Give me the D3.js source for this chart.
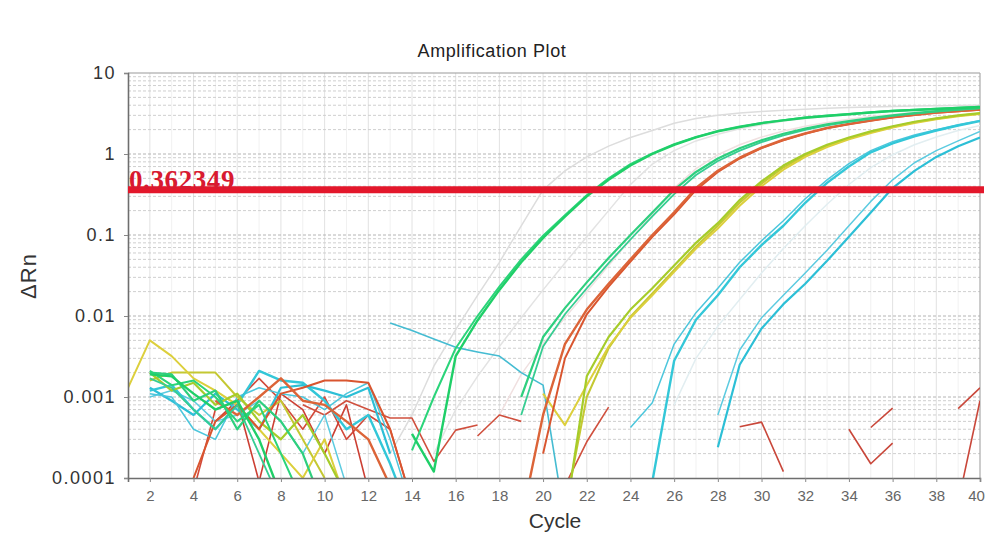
<!DOCTYPE html>
<html>
<head>
<meta charset="utf-8">
<script src="https://cdn.jsdelivr.net/npm/d3@7"></script>
<style>
  body { margin: 0; background: #fff; }
  svg { display: block; font-family: "Liberation Sans", Arial, sans-serif; }
</style>
</head>
<body>
<div id="chart"></div>
<script>
var svgWidth = 986;
var svgHeight = 534;

var margin = { top: 73, right: 6, bottom: 56, left: 128 };
var width = svgWidth - margin.left - margin.right;
var height = svgHeight - margin.top - margin.bottom;

var _ = null;

// cycles and axis labels
var cycles = d3.range(1, 41);
var xTicks = d3.range(2, 41, 2);
var yTicks = [0.0001, 0.001, 0.01, 0.1, 1, 10];
var yTickLabels = ["0.0001", "0.001", "0.01", "0.1", "1", "10"];
var threshold = 0.362349;

// ΔRn per cycle (1..40), null = not drawn
var grayA = [_,_,_,_,_,_,_,_,_,_,_,_,0.0002,0.0006,0.0024,0.0068,0.018,0.046,0.13,0.36,0.62,0.92,1.25,1.60,1.95,2.40,2.75,3.00,3.20,3.35,3.48,3.58,3.66,3.74,3.80,3.86,3.90,3.94,3.97,4.00];
var grayB = [_,_,_,_,_,_,_,_,_,_,_,_,_,_,0.0002,0.0007,0.0018,0.0042,0.0095,0.021,0.045,0.095,0.20,0.42,0.75,1.10,1.45,1.75,2.05,2.30,2.55,2.75,2.95,3.10,3.25,3.40,3.50,3.60,3.70,3.80];
var grayC = [_,_,_,_,_,_,_,_,_,_,_,_,_,_,_,_,_,0.0006,0.0019,0.0045,0.0095,0.020,0.042,0.088,0.18,0.38,0.66,0.98,1.30,1.62,1.92,2.20,2.45,2.68,2.90,3.08,3.25,3.40,3.55,3.68];
var grayD = [_,_,_,_,_,_,_,_,_,_,_,_,_,_,_,_,_,_,_,_,_,_,_,_,_,0.0008,0.0030,0.0075,0.016,0.034,0.068,0.13,0.24,0.42,0.68,0.98,1.30,1.62,1.95,2.25];

var greenA1 = [_,0.0019,0.0018,0.0011,0.0007,0.0009,0.0003,0.00006,_,_,_,_,_,0.00035,0.00012,0.0032,0.0088,0.021,0.046,0.092,0.168,0.30,0.48,0.72,1.00,1.30,1.60,1.90,2.15,2.40,2.60,2.80,2.95,3.10,3.25,3.40,3.50,3.60,3.70,3.80];
var greenA2 = [_,0.0021,0.0014,0.0016,0.0010,0.0005,0.0008,0.0002,0.00005,_,_,_,_,0.00022,0.0010,0.0040,0.0100,0.023,0.050,0.098,0.175,0.31,0.50,0.75,1.02,1.32,1.62,1.92,2.18,2.42,2.62,2.82,2.98,3.12,3.28,3.42,3.52,3.62,3.72,3.82];
var greenB1 = [_,0.0020,0.0019,0.0009,0.0012,0.0004,0.0009,0.0005,0.0002,0.00004,_,_,_,_,_,_,_,_,0.0010,0.0055,0.0125,0.026,0.052,0.10,0.19,0.36,0.60,0.88,1.18,1.48,1.78,2.06,2.32,2.55,2.78,3.00,3.20,3.38,3.55,3.70];
var greenB2 = [_,0.0017,0.0013,0.0007,0.0004,0.0008,0.0002,0.00005,_,_,_,_,_,_,_,_,_,_,0.0006,0.0042,0.0105,0.022,0.045,0.088,0.17,0.32,0.55,0.82,1.10,1.40,1.70,1.98,2.25,2.50,2.72,2.95,3.15,3.33,3.50,3.66];
var orangeC1 = [_,_,_,_,0.0009,0.0006,0.0010,0.0017,0.0009,0.0008,0.0005,0.0003,0.00008,_,_,_,_,_,0.00003,0.0006,0.0045,0.012,0.025,0.050,0.10,0.19,0.38,0.62,0.90,1.20,1.50,1.80,2.10,2.35,2.60,2.85,3.05,3.25,3.40,3.55];
var orangeC2 = [_,_,_,0.0001,0.0005,0.0008,0.0004,0.0011,0.0013,0.0016,0.0016,0.0015,0.0004,0.00005,_,_,_,_,_,0.0002,0.0030,0.0105,0.023,0.047,0.095,0.18,0.36,0.60,0.88,1.18,1.48,1.78,2.08,2.33,2.58,2.83,3.03,3.22,3.38,3.52];
var limeD1 = [_,0.0020,0.0012,0.0015,0.0008,0.0011,0.0005,0.0003,0.0006,0.0002,0.00006,_,_,_,_,_,_,_,_,_,0.00003,0.0018,0.0055,0.012,0.022,0.042,0.080,0.14,0.27,0.46,0.72,1.00,1.30,1.60,1.90,2.20,2.50,2.75,3.00,3.20];
var yellowD2 = [0.0013,0.0050,0.0032,0.0017,0.0012,0.0008,0.0004,0.0002,0.0001,0.0003,0.00005,_,_,_,_,_,_,_,_,0.0011,0.00045,0.0014,0.0042,0.0095,0.018,0.035,0.068,0.12,0.23,0.40,0.64,0.92,1.22,1.52,1.82,2.12,2.42,2.68,2.92,3.12];
var oliveD3 = [_,0.0016,0.0020,0.0020,0.0020,0.0010,0.0006,0.0009,0.0003,0.0001,_,_,_,_,_,_,_,_,_,_,0.00004,0.0010,0.0040,0.0098,0.019,0.037,0.072,0.13,0.25,0.43,0.68,0.96,1.26,1.56,1.86,2.16,2.46,2.72,2.96,3.16];
var cyanE1 = [_,0.0012,0.0014,0.0007,0.0004,0.0008,0.0021,0.0016,0.0015,0.0009,0.0004,0.0006,0.00015,0.00003,_,_,_,_,_,_,_,_,_,0.00001,0.00009,0.0028,0.0090,0.018,0.040,0.075,0.13,0.25,0.44,0.70,1.05,1.35,1.65,1.95,2.25,2.55];
var cyanE2 = [_,0.0011,0.0010,0.0004,0.0003,0.0010,0.0013,0.0011,0.0010,0.0007,0.0011,0.0015,0.0003,0.00004,_,_,_,_,_,_,_,_,_,0.00042,0.00085,0.0045,0.011,0.022,0.046,0.085,0.15,0.28,0.48,0.76,1.10,1.42,1.72,2.00,2.30,2.60];
var cyanF1 = [_,0.0013,0.0009,0.0006,0.0011,0.0007,0.0004,0.0013,0.0014,0.0012,0.0010,0.0013,0.0002,_,_,_,_,_,_,_,_,_,_,_,_,_,_,0.00024,0.0025,0.0070,0.014,0.025,0.048,0.095,0.19,0.38,0.62,0.92,1.25,1.60];
var cyanF2 = [_,0.0010,0.0012,0.0009,0.0005,0.0006,0.0009,0.0005,0.0002,0.0006,0.00008,_,_,_,_,_,_,_,_,_,_,_,_,_,_,_,_,0.0006,0.0038,0.0095,0.018,0.034,0.065,0.13,0.26,0.48,0.78,1.10,1.45,1.90];
var cyanS = [_,_,_,_,_,_,_,_,_,_,_,_,0.0082,0.0066,0.0052,0.0041,0.0036,0.0032,0.0020,0.0014,0.00003,_,_,_,_,_,_,_,_,_,_,_,_,_,_,_,_,_,_,_];

// baseline noise segments (red)
var redN1 = [_,_,_,0.00007,0.0007,0.0009,0.0017,0.0009,0.0004,0.0010,0.0003,0.0006,0.0004,0.00005,_,_,_,_,_,_,_,_,_,_,_,_,_,_,_,_,_,_,_,_,_,_,_,_,_,_];
var redN2 = [_,_,_,_,_,_,_,_,0.0008,0.0006,0.0009,0.0007,0.00055,0.00055,0.00016,0.00039,0.00045,_,_,_,_,_,_,_,_,_,_,_,_,_,_,_,_,_,_,_,_,_,_,_];
var redN3 = [_,_,_,_,_,_,_,_,_,_,_,_,_,_,_,_,0.00033,0.0006,0.0005,_,_,_,_,_,_,_,_,_,_,_,_,_,_,_,_,_,_,_,_,_];
var redN4 = [_,_,_,_,_,_,_,_,_,_,_,_,_,_,_,_,_,_,_,_,0.00008,0.00028,0.00075,_,_,_,_,_,_,_,_,_,_,_,_,_,_,_,_,_];
var redN5 = [_,_,_,_,_,_,_,_,_,_,_,_,_,_,_,_,_,_,_,_,_,_,_,_,_,_,_,_,0.00043,0.00049,0.00012,_,_,_,_,_,_,_,_,_];
var redN6 = [_,_,_,_,_,_,_,_,_,_,_,_,_,_,_,_,_,_,_,_,_,_,_,_,_,_,_,_,_,_,_,_,_,0.00040,0.00015,0.00027,_,_,_,_];
var redN7 = [_,_,_,_,_,_,_,_,_,_,_,_,_,_,_,_,_,_,_,_,_,_,_,_,_,_,_,_,_,_,_,_,_,_,0.00042,0.00073,_,_,_,_];
var redN8 = [_,_,_,_,_,_,_,_,_,_,_,_,_,_,_,_,_,_,_,_,_,_,_,_,_,_,_,_,_,_,_,_,_,_,_,_,_,_,0.00072,0.0013];
var redN9 = [_,_,_,_,_,_,_,_,_,_,_,_,_,_,_,_,_,_,_,_,_,_,_,_,_,_,_,_,_,_,_,_,_,_,_,_,_,_,0.00005,0.0009];
var redN10 = [_,_,_,_,0.0005,0.0009,0.00009,0.0011,0.0007,0.0002,0.0008,0.00007,_,_,_,_,_,_,_,_,_,_,_,_,_,_,_,_,_,_,_,_,_,_,_,_,_,_,_,_];

var series = [
  { values: grayD, color: "#e2eef1", w: 1.5 },
  { values: grayC, color: "#f0e0e0", w: 1.5 },
  { values: grayB, color: "#e3e3e3", w: 1.5 },
  { values: grayA, color: "#dddddd", w: 1.5 },
  { values: redN1, color: "#d2493a", w: 1.6 },
  { values: redN10, color: "#cc3f33", w: 1.6 },
  { values: redN2, color: "#d0503e", w: 1.6 },
  { values: redN3, color: "#d0503e", w: 1.6 },
  { values: redN4, color: "#d0503e", w: 1.6 },
  { values: redN5, color: "#c9473a", w: 1.6 },
  { values: redN6, color: "#c9473a", w: 1.6 },
  { values: redN7, color: "#c9473a", w: 1.6 },
  { values: redN8, color: "#c9473a", w: 1.6 },
  { values: redN9, color: "#c9473a", w: 1.6 },
  { values: cyanS, color: "#45bcd2", w: 1.6 },
  { values: cyanF2, color: "#5ccbe0", w: 1.5 },
  { values: cyanF1, color: "#2cbfd6", w: 2.2 },
  { values: cyanE2, color: "#4cc6dc", w: 1.5 },
  { values: cyanE1, color: "#33c7d8", w: 2.4 },
  { values: oliveD3, color: "#c4c832", w: 2 },
  { values: yellowD2, color: "#dccf3c", w: 2 },
  { values: limeD1, color: "#a6cc2a", w: 2.2 },
  { values: orangeC2, color: "#d9552f", w: 2 },
  { values: orangeC1, color: "#dc6438", w: 2.4 },
  { values: greenB2, color: "#36cd92", w: 1.8 },
  { values: greenB1, color: "#2ecf7e", w: 2.2 },
  { values: greenA2, color: "#2bd47a", w: 2 },
  { values: greenA1, color: "#1fcf68", w: 2.4 }
];

var svg = d3.select("#chart")
  .append("svg")
  .attr("width", svgWidth)
  .attr("height", svgHeight);

svg.append("rect").attr("width", svgWidth).attr("height", svgHeight).attr("fill", "#fff");

// scales
var x = d3.scaleLinear().domain([1, 40]).range([margin.left, margin.left + width]);
var y = d3.scaleLog().domain([0.0001, 10]).range([margin.top + height, margin.top]);

// grid
var grid = svg.append("g");
grid.selectAll(".vgrid")
  .data(cycles.filter(c => c > 1 && c < 40))
  .enter().append("line")
  .attr("x1", d => x(d)).attr("x2", d => x(d))
  .attr("y1", margin.top).attr("y2", margin.top + height)
  .attr("stroke", d => d % 2 === 0 ? "#e2e2e2" : "#f1f1f1")
  .attr("stroke-width", 1);

grid.selectAll(".hgrid")
  .data(y.ticks().filter(t => t > 0.0001 && t < 10))
  .enter().append("line")
  .attr("x1", margin.left).attr("x2", margin.left + width)
  .attr("y1", d => y(d)).attr("y2", d => y(d))
  .attr("stroke", d => yTicks.indexOf(d) >= 0 ? "#b4b4b4" : "#cfcfcf")
  .attr("stroke-dasharray", "3,2")
  .attr("stroke-width", 1);

// frame top & right
svg.append("line")
  .attr("x1", margin.left).attr("x2", margin.left + width)
  .attr("y1", margin.top).attr("y2", margin.top)
  .attr("stroke", "#999").attr("stroke-width", 1.2);
svg.append("line")
  .attr("x1", margin.left + width).attr("x2", margin.left + width)
  .attr("y1", margin.top).attr("y2", margin.top + height)
  .attr("stroke", "#aaa").attr("stroke-width", 1.2);

// curves
svg.append("clipPath").attr("id", "plotClip")
  .append("rect")
  .attr("x", margin.left).attr("y", margin.top)
  .attr("width", width).attr("height", height);

var line = d3.line()
  .defined(d => d != null)
  .x((d, i) => x(cycles[i]))
  .y(d => y(d));

svg.append("g")
  .attr("clip-path", "url(#plotClip)")
  .selectAll("path")
  .data(series)
  .enter().append("path")
  .attr("d", d => line(d.values))
  .attr("fill", "none")
  .attr("stroke", d => d.color)
  .attr("stroke-width", d => d.w)
  .attr("stroke-linejoin", "round");

// axes
var xAxis = d3.axisBottom(x).tickValues(xTicks).tickSize(4).tickPadding(8);
var yAxis = d3.axisLeft(y).tickValues(yTicks).tickSize(4).tickPadding(8)
  .tickFormat((d, i) => yTickLabels[i]);

var gx = svg.append("g")
  .attr("transform", `translate(0, ${margin.top + height})`)
  .call(xAxis);
gx.select(".domain").attr("stroke", "#6e6e6e").attr("stroke-width", 1.6);
gx.selectAll(".tick line").attr("stroke", "#888");
gx.selectAll("text")
  .attr("font-size", "15px")
  .attr("font-family", "Liberation Sans, Arial, sans-serif")
  .attr("fill", "#666")
  .attr("dx", d => d === 40 ? "-4" : null);

var gy = svg.append("g")
  .attr("transform", `translate(${margin.left}, 0)`)
  .call(yAxis);
gy.select(".domain").attr("stroke", "#6e6e6e").attr("stroke-width", 1.6);
gy.selectAll(".tick line").attr("stroke", "#888");
gy.selectAll("text")
  .attr("font-size", "18px")
  .attr("letter-spacing", "1.5px")
  .attr("font-family", "Liberation Sans, Arial, sans-serif")
  .attr("fill", "#333");

// threshold
svg.append("line")
  .attr("x1", margin.left).attr("x2", svgWidth - 2)
  .attr("y1", y(threshold)).attr("y2", y(threshold))
  .attr("stroke", "#e3172b")
  .attr("stroke-width", 7);

svg.append("text")
  .attr("x", margin.left + 1)
  .attr("y", y(threshold) - 1)
  .attr("font-family", "Liberation Serif, Times New Roman, serif")
  .attr("font-weight", "bold")
  .attr("font-size", "27px")
  .attr("letter-spacing", "0.6px")
  .attr("fill", "#d81a30")
  .text(threshold.toString());

// titles
svg.append("text")
  .attr("x", 492)
  .attr("y", 57)
  .attr("text-anchor", "middle")
  .attr("font-size", "18px")
  .attr("letter-spacing", "0.6px")
  .attr("fill", "#222")
  .text("Amplification Plot");

svg.append("text")
  .attr("transform", "translate(36, 276) rotate(-90)")
  .attr("text-anchor", "middle")
  .attr("font-size", "22px")
  .attr("letter-spacing", "1px")
  .attr("fill", "#333")
  .text("ΔRn");

svg.append("text")
  .attr("x", 555)
  .attr("y", 528)
  .attr("text-anchor", "middle")
  .attr("font-size", "21px")
  .attr("fill", "#333")
  .text("Cycle");
</script>
</body>
</html>
